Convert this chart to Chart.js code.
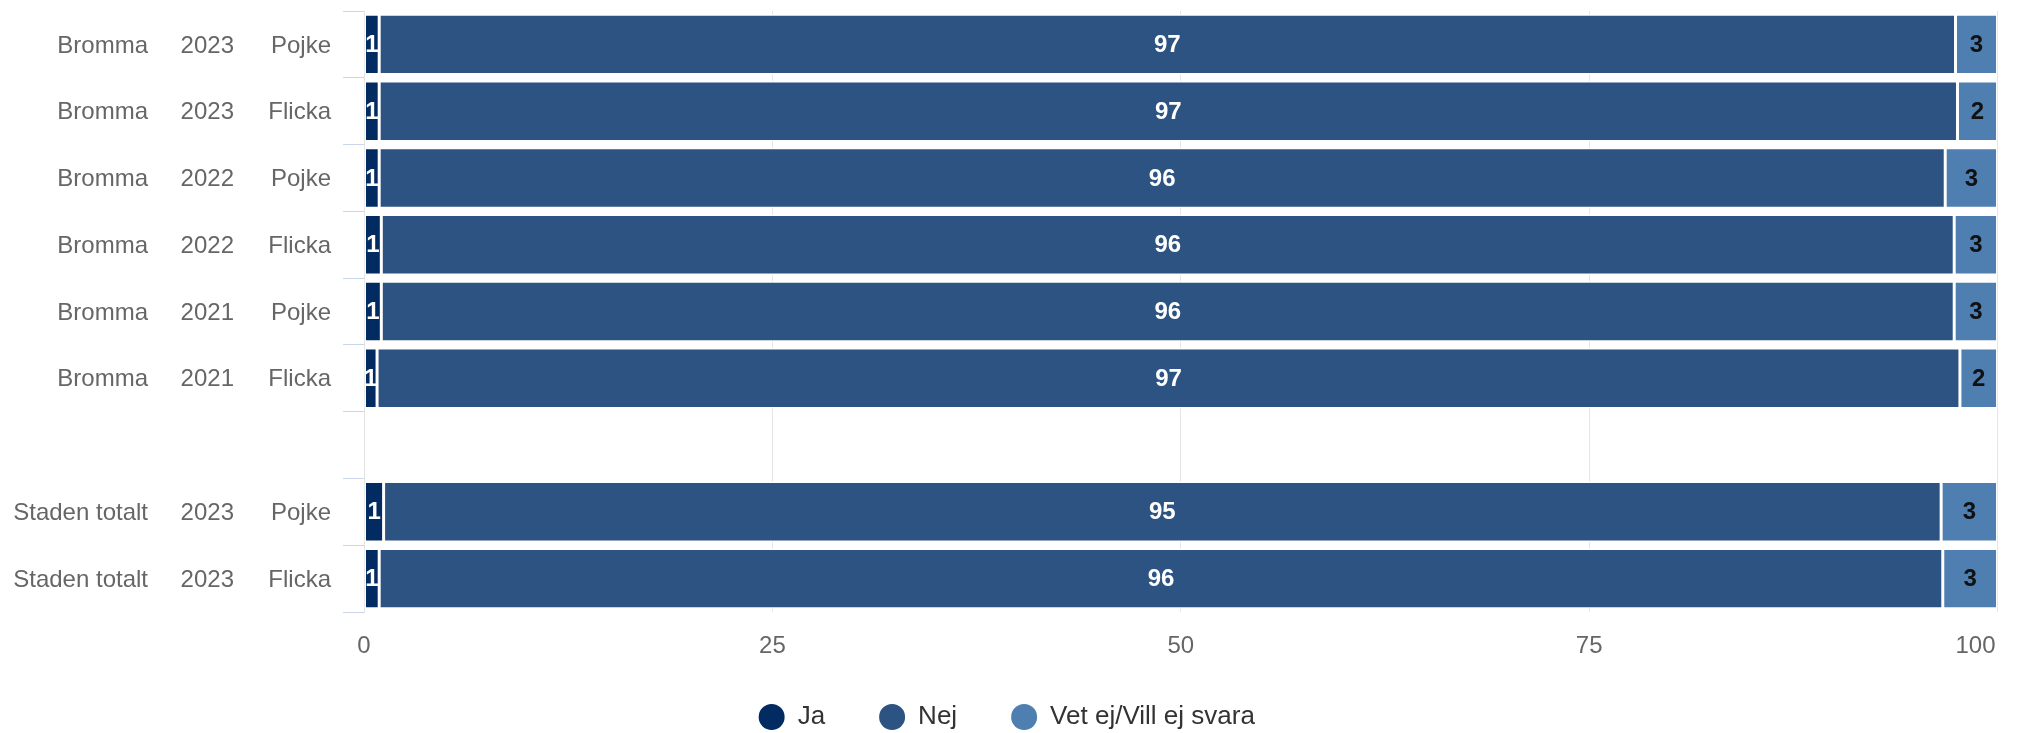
<!DOCTYPE html>
<html>
<head>
<meta charset="utf-8">
<script src="https://cdn.jsdelivr.net/npm/chart.js@4.4.0/dist/chart.umd.min.js"></script>
<style>
  html, body { margin: 0; padding: 0; background: #ffffff; }
  #wrap { width: 2017px; height: 733px; position: relative; }
</style>
</head>
<body>
<div id="wrap"><canvas id="c"></canvas></div>
<script>
// ---- data ----
const regions = ['Bromma', 'Bromma', 'Bromma', 'Bromma', 'Bromma', 'Bromma', '', 'Staden totalt', 'Staden totalt'];
const years   = ['2023', '2023', '2022', '2022', '2021', '2021', '', '2023', '2023'];
const genders = ['Pojke', 'Flicka', 'Pojke', 'Flicka', 'Pojke', 'Flicka', '', 'Pojke', 'Flicka'];
const seriesNames = ['Ja', 'Nej', 'Vet ej/Vill ej svara'];
const ja  = [0.93, 0.93, 0.93, 1.06, 1.06, 0.8, null, 1.2, 0.93];
const nej = [96.5, 96.62, 95.87, 96.29, 96.29, 96.9, null, 95.35, 95.72];
const vet = [2.57, 2.45, 3.2, 2.65, 2.65, 2.3, null, 3.45, 3.35];
const xTickValues = [0, 25, 50, 75, 100];

// ---- styles ----
const seriesColors = ['#022b62', '#2c5381', '#4e7fb0'];
const labelColors = ['#ffffff', '#ffffff', '#111111'];
const FONT = '"Liberation Sans", Arial, Helvetica, sans-serif';
Chart.defaults.font.family = FONT;

const dataLabelPlugin = {
  id: 'stackLabels',
  afterLayout(chart) {
    // let the x tick labels draw below the (short) axis box without clipping
    const xs = chart.scales.x;
    xs.bottom = xs.top + 60;
    xs.height = 60;
    // center the legend on the whole canvas, as in the original
    const lg = chart.legend;
    lg.left += 8; lg.right += 8;
    lg.top += 2; lg.bottom += 2;
  },
  beforeDraw(chart) {
    // justify the last x tick label inside the canvas, like the original
    const items = chart.scales.x.getLabelItems();
    const last = items[items.length - 1];
    if (last && !last._shifted) {
      last.options.translation[0] -= 22;
      last._shifted = true;
    }
  },
  afterDatasetsDraw(chart) {
    const ctx = chart.ctx;
    ctx.save();
    ctx.font = 'bold 24px ' + FONT;
    ctx.textAlign = 'center';
    ctx.textBaseline = 'middle';
    chart.data.datasets.forEach((ds, di) => {
      const meta = chart.getDatasetMeta(di);
      meta.data.forEach((bar, i) => {
        const v = ds.data[i];
        if (v == null) return;
        const p = bar.getProps(['x', 'base', 'y'], true);
        ctx.fillStyle = labelColors[di];
        ctx.fillText(String(Math.round(v)), (p.x + p.base) / 2, p.y + 1);
      });
    });
    ctx.restore();
  }
};

const seriesData = [ja, nej, vet];

function noVertPad(s) { s.paddingTop = 0; s.paddingBottom = 0; }

new Chart(document.getElementById('c'), {
  type: 'bar',
  data: {
    labels: genders,
    datasets: seriesNames.map((name, k) => ({
      label: name,
      data: seriesData[k],
      backgroundColor: seriesColors[k],
      borderColor: '#ffffff',
      borderWidth: 1.5,
      borderSkipped: false,
      pointStyle: 'circle',
      barPercentage: 0.905,
      categoryPercentage: 1,
      xAxisID: 'x',
      yAxisID: 'y'
    }))
  },
  options: {
    indexAxis: 'y',
    responsive: true,
    maintainAspectRatio: false,
    animation: false,
    layout: { padding: { top: 11, right: 19.5, bottom: 0, left: 0 } },
    scales: {
      x: {
        type: 'linear',
        position: 'bottom',
        stacked: true,
        min: 0,
        max: 100,
        afterBuildTicks(s) { s.ticks = xTickValues.map(v => ({ value: v })); },
        grid: { color: '#e6e6e6', lineWidth: 1, drawTicks: false },
        border: { display: false },
        ticks: { color: '#666666', font: { size: 24 }, padding: 19.6, maxRotation: 0 },
        afterFit(s) { s.height = 36; s.paddingLeft = 0; s.paddingRight = 0; }
      },
      y: {
        type: 'category',
        axis: 'y',
        position: 'left',
        weight: 1,
        stacked: true,
        offset: true,
        labels: genders,
        grid: { offset: true, drawOnChartArea: false, drawTicks: true, tickLength: 21, color: '#ccd6eb', lineWidth: 1 },
        border: { display: true, color: '#e3e3e3', width: 1 },
        ticks: { color: '#666666', font: { size: 24 }, padding: 12, crossAlign: 'near', autoSkip: false, labelOffset: 1.5 },
        afterFit(s) { s.width = 130; noVertPad(s); }
      },
      yYear: {
        type: 'category',
        axis: 'y',
        position: 'left',
        weight: 2,
        offset: true,
        labels: years,
        grid: { display: false, drawTicks: false },
        border: { display: false },
        ticks: { color: '#666666', font: { size: 24 }, padding: 0, crossAlign: 'near', autoSkip: false, labelOffset: 1.5 },
        afterFit(s) { s.width = 86; noVertPad(s); }
      },
      yRegion: {
        type: 'category',
        axis: 'y',
        position: 'left',
        weight: 3,
        offset: true,
        labels: regions,
        grid: { display: false, drawTicks: false },
        border: { display: false },
        ticks: { color: '#666666', font: { size: 24 }, padding: 0, crossAlign: 'near', autoSkip: false, labelOffset: 1.5 },
        afterFit(s) { s.width = 148; noVertPad(s); }
      }
    },
    plugins: {
      tooltip: { enabled: false },
      legend: {
        display: true,
        position: 'bottom',
        align: 'center',
        maxHeight: 85,
        labels: {
          color: '#333333',
          font: { size: 26 },
          usePointStyle: true,
          pointStyleWidth: 26,
          boxHeight: 18.4,
          padding: 54,
          generateLabels(chart) {
            const items = Chart.defaults.plugins.legend.labels.generateLabels(chart);
            items.forEach(it => { it.lineWidth = 0; it.strokeStyle = 'rgba(0,0,0,0)'; it.pointStyle = 'circle'; });
            return items;
          }
        }
      }
    }
  },
  plugins: [dataLabelPlugin]
});
</script>
</body>
</html>
